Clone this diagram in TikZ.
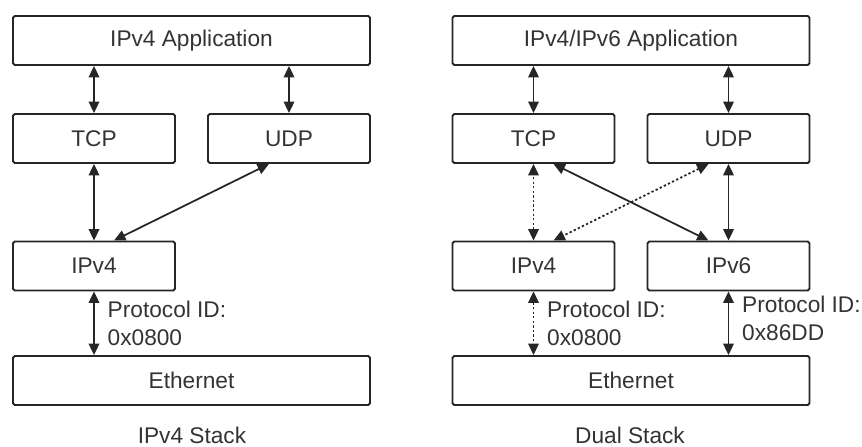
\documentclass[tikz,border=0pt]{standalone}
\usepackage{fontspec}
\setmainfont{Liberation Sans}
\usepackage{tikz}
\usetikzlibrary{arrows.meta}
\tikzset{
  layer/.style={draw=black!85, line width=1.1pt, rounded corners=1pt, text=black!80,
                minimum height=0.98cm, inner sep=0pt},
  wide/.style={layer, minimum width=7.14cm},
  narrow/.style={layer, minimum width=3.24cm},
  link/.style={<->, line width=1pt, draw=black!85},
  maybe/.style={link, dash pattern=on 1.3pt off 1.3pt},
  protoid/.style={right=0.14cm, align=left, text=black!80},
  caption/.style={text=black!80}
}

\begin{document}
\begin{tikzpicture}[>={Triangle[length=6.5pt,width=6pt]}, font=\fontsize{12.9pt}{15.9pt}\selectfont]
        \useasboundingbox (0,0) rectangle (17.24,8.92);

        % IPv4 stack
        \node[wide] (app1) at (3.83, 8.11) {IPv4 Application};
        \node[narrow] (tcp1) at (1.88, 6.15) {TCP};
        \node[narrow] (udp1) at (5.78, 6.15) {UDP};
        \node[narrow] (ip1) at (1.88, 3.6) {IPv4};
        \node[wide] (eth1) at (3.83, 1.31) {Ethernet};
        \node[caption] (cap1) at (3.84, 0.22) {IPv4 Stack};

        \draw[link] (tcp1) -- (tcp1 |- app1.south);
        \draw[link] (udp1) -- (udp1 |- app1.south);
        \draw[link] (ip1) -- (ip1 |- tcp1.south);
        \draw[link] ([xshift=0.4cm]ip1.north) -- ([xshift=-0.4cm]udp1.south);
        \draw[link] (ip1) -- node[protoid] {Protocol ID:\\0x0800} (ip1 |- eth1.north);

        % dual stack
        \node[wide] (app2) at (12.62, 8.11) {IPv4/IPv6 Application};
        \node[narrow] (tcp2) at (10.67, 6.15) {TCP};
        \node[narrow] (udp2) at (14.57, 6.15) {UDP};
        \node[narrow] (ip4) at (10.67, 3.6) {IPv4};
        \node[narrow] (ip6) at (14.57, 3.6) {IPv6};
        \node[wide] (eth2) at (12.62, 1.31) {Ethernet};
        \node[caption] (cap2) at (12.6, 0.22) {Dual Stack};

        \draw[link] (tcp2) -- (tcp2 |- app2.south);
        \draw[link] (udp2) -- (udp2 |- app2.south);
        \draw[maybe] (ip4) -- (ip4 |- tcp2.south);
        \draw[link] (ip6) -- (ip6 |- udp2.south);
        \draw[link] ([xshift=0.4cm]tcp2.south) -- ([xshift=-0.4cm]ip6.north);
        \draw[maybe] ([xshift=-0.4cm]udp2.south) -- ([xshift=0.4cm]ip4.north);
        \draw[maybe] (ip4) -- node[protoid] {Protocol ID:\\0x0800} (ip4 |- eth2.north);
        \draw[link] (ip6) -- node[protoid, yshift=0.09cm] {Protocol ID:\\0x86DD} (ip6 |- eth2.north);
      \end{tikzpicture}
\end{document}
